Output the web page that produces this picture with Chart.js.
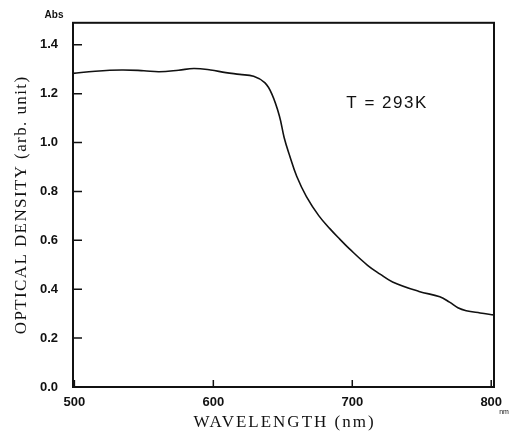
<!DOCTYPE html>
<html>
<head>
<meta charset="utf-8">
<script src="https://cdn.jsdelivr.net/npm/chart.js@4/dist/chart.umd.min.js"></script>
<style>
  html, body { margin: 0; padding: 0; background: #fff; }
  #wrap { width: 514px; height: 437px; }
</style>
</head>
<body>
<div id="wrap"><canvas id="grafico" width="514" height="437"></canvas></div>
<script>
// absorption spectrum at room temperature
const wavelength = [499, 515, 534, 550, 561, 575, 586, 598, 609, 619, 629, 637, 642, 647.5, 651, 655, 660, 667, 676, 684, 691, 698, 711, 720, 729, 748, 763, 770, 776, 782, 792, 802];
const density    = [1.283, 1.292, 1.297, 1.294, 1.290, 1.296, 1.303, 1.297, 1.286, 1.279, 1.271, 1.245, 1.200, 1.110, 1.020, 0.945, 0.862, 0.779, 0.700, 0.647, 0.605, 0.565, 0.498, 0.462, 0.430, 0.391, 0.369, 0.347, 0.324, 0.312, 0.303, 0.295];

const xTicks = [500, 600, 700, 800];
const yTicks = [0, 0.2, 0.4, 0.6, 0.8, 1.0, 1.2, 1.4];

const xTitle = 'WAVELENGTH (nm)';
const yTitle = 'OPTICAL DENSITY (arb. unit)';
const tempLabel = 'T = 293K';
const tempPos = { x: 725, y: 1.16 };

const ink = '#111';
const serif = '"Liberation Serif", "Times New Roman", serif';
const sans = '"Liberation Sans", Arial, sans-serif';

// frame, inward tick marks, spaced axis titles and the loose labels
const framePlugin = {
  id: 'frame',
  afterDraw(chart) {
    const { ctx, chartArea: a, scales } = chart;
    const xs = scales.x, ys = scales.y;
    ctx.save();
    ctx.strokeStyle = ink;
    ctx.lineWidth = 2;
    ctx.strokeRect(a.left, a.top, a.right - a.left, a.bottom - a.top);

    ctx.lineWidth = 1.5;
    ctx.beginPath();
    yTicks.forEach(v => {
      const py = ys.getPixelForValue(v);
      ctx.moveTo(a.left, py);
      ctx.lineTo(a.left + 9, py);
    });
    xTicks.forEach(v => {
      const px = xs.getPixelForValue(v);
      ctx.moveTo(px, a.bottom);
      ctx.lineTo(px, a.bottom - 7);
    });
    ctx.stroke();

    ctx.fillStyle = ink;
    ctx.textAlign = 'center';
    ctx.textBaseline = 'middle';

    ctx.font = '17px ' + serif;
    ctx.letterSpacing = '2px';
    ctx.fillText(xTitle, (a.left + a.right) / 2 + 1, 423);

    ctx.save();
    ctx.translate(22, (a.top + a.bottom) / 2);
    ctx.rotate(-Math.PI / 2);
    ctx.letterSpacing = '1.4px';
    ctx.fillText(yTitle, 0, 0);
    ctx.restore();

    ctx.font = '17px ' + sans;
    ctx.letterSpacing = '1.5px';
    ctx.fillText(tempLabel, xs.getPixelForValue(tempPos.x), ys.getPixelForValue(tempPos.y));
    ctx.letterSpacing = '0px';

    ctx.font = 'bold 10px ' + sans;
    ctx.fillText('Abs', a.left - 19, a.top - 8);
    ctx.font = '7px ' + sans;
    ctx.fillText('nm', a.right + 10, a.bottom + 25);
    ctx.restore();
  }
};

const ctx = document.getElementById('grafico');

new Chart(ctx, {
  type: 'line',
  data: {
    datasets: [{
      label: 'OD',
      data: wavelength.map((w, i) => ({ x: w, y: density[i] })),
      borderColor: ink,
      borderWidth: 1.6,
      pointRadius: 0,
      tension: 0.4,
      fill: false
    }]
  },
  options: {
    responsive: false,
    animation: false,
    layout: { padding: { top: 19, right: 20, left: 0, bottom: 0 } },
    plugins: {
      legend: { display: false },
      tooltip: { enabled: false }
    },
    scales: {
      x: {
        type: 'linear',
        min: 499,
        max: 802,
        afterBuildTicks: s => { s.ticks = xTicks.map(v => ({ value: v })); },
        afterFit: s => { s.height = 50; },
        grid: { display: false, drawTicks: false },
        border: { display: false },
        ticks: {
          padding: 8,
          color: ink,
          font: { family: sans, size: 13, weight: 'bold' },
          maxRotation: 0
        },
        title: { display: false }
      },
      y: {
        type: 'linear',
        min: 0,
        max: 1.49,
        afterBuildTicks: s => { s.ticks = yTicks.map(v => ({ value: v })); },
        afterFit: s => { s.width = 73; },
        grid: { display: false, drawTicks: false },
        border: { display: false },
        ticks: {
          padding: 15,
          color: ink,
          font: { family: sans, size: 13, weight: 'bold' },
          callback: v => v.toFixed(1)
        },
        title: { display: false }
      }
    }
  },
  plugins: [framePlugin]
});
</script>
</body>
</html>
